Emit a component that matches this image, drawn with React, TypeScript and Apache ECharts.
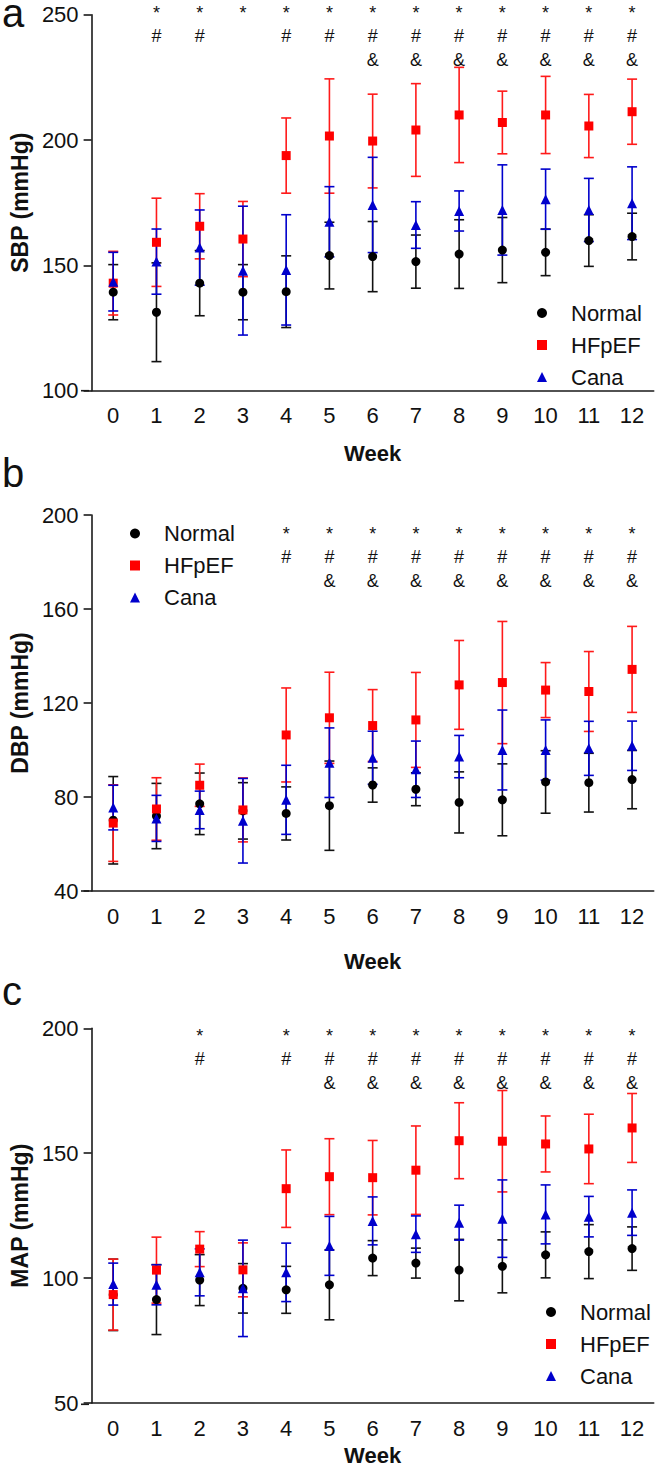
import React, { useEffect, useRef } from "react";
import * as echarts from "echarts";

const weeks = ["0", "1", "2", "3", "4", "5", "6", "7", "8", "9", "10", "11", "12"];
const groups = ["Normal", "HFpEF", "Cana"];

// Panel a: SBP
const sbpNormal = [139.3, 131.3, 142.9, 139.3, 139.5, 153.9, 153.5, 151.5, 154.5, 156.1, 155.2, 159.9, 161.5];
const sbpNormalSd = [11, 19.7, 13, 11, 14.3, 13.3, 14, 10.6, 13.7, 13, 9.3, 10.3, 9.3];
const sbpHfpef = [142.9, 159.2, 165.6, 160.5, 193.8, 201.6, 199.6, 204.0, 210.0, 207.0, 210.0, 205.6, 211.3];
const sbpHfpefSd = [12.7, 17.6, 13, 15, 15, 22.8, 18.7, 18.5, 19, 12.5, 15.4, 12.6, 13];
const sbpCana = [143.5, 151.5, 157.1, 147.9, 148.2, 167.4, 174.1, 166.1, 171.7, 172.1, 176.4, 172.1, 174.8];
const sbpCanaSd = [11.7, 13, 15, 25.7, 22, 14, 19, 9.3, 8, 18, 12, 12.6, 14.5];

// Panel b: DBP
const dbpNormal = [70.1, 71.9, 77.1, 74.1, 73.0, 76.3, 85.1, 83.3, 77.7, 78.8, 86.4, 86.1, 87.4];
const dbpNormalSd = [18.6, 13.9, 13.1, 12, 11.3, 19, 7.3, 7, 13, 15.3, 13.3, 12.5, 12.4];
const dbpHfpef = [68.9, 74.9, 85.0, 74.5, 106.4, 113.7, 110.4, 112.8, 127.7, 128.7, 125.5, 124.9, 134.3];
const dbpHfpefSd = [16.3, 13.3, 9, 13.6, 20, 19.4, 15.3, 20.2, 18.9, 26, 11.7, 17, 18.3];
const dbpCana = [75.5, 70.9, 74.5, 69.9, 78.8, 94.6, 96.7, 91.8, 97.2, 100.0, 100.0, 100.7, 101.8];
const dbpCanaSd = [9.5, 9.8, 8, 18, 14.7, 14.8, 11.3, 12, 9, 17, 12.8, 11.5, 10.5];

// Panel c: MAP
const mapNormal = [93.3, 91.4, 99.2, 95.9, 95.3, 97.3, 108.0, 106.0, 103.2, 104.7, 109.3, 110.6, 111.8];
const mapNormalSd = [14.3, 14, 10.2, 9.9, 9.4, 14, 7, 6, 12.3, 10.6, 9.2, 10.8, 8.7];
const mapHfpef = [93.4, 103.2, 111.6, 103.3, 135.8, 140.6, 140.2, 143.2, 155.0, 154.8, 153.7, 151.7, 160.1];
const mapHfpefSd = [14.2, 13.2, 7, 10.8, 15.5, 15.2, 14.9, 17.7, 15.2, 20.3, 11.2, 13.9, 13.8];
const mapCana = [97.6, 97.3, 102.3, 95.9, 102.3, 112.9, 122.9, 117.6, 122.2, 123.8, 125.5, 124.6, 126.2];
const mapCanaSd = [8.4, 8, 9.4, 19.3, 11.7, 11.8, 9.6, 7.3, 7, 15.5, 11.8, 8.1, 9.1];

// Significance marks (week indices)
const sigAStar = [1, 2, 3, 4, 5, 6, 7, 8, 9, 10, 11, 12];
const sigAHash = [1, 2, 4, 5, 6, 7, 8, 9, 10, 11, 12];
const sigAAmp = [6, 7, 8, 9, 10, 11, 12];
const sigBStar = [4, 5, 6, 7, 8, 9, 10, 11, 12];
const sigBHash = [4, 5, 6, 7, 8, 9, 10, 11, 12];
const sigBAmp = [5, 6, 7, 8, 9, 10, 11, 12];
const sigCStar = [2, 4, 5, 6, 7, 8, 9, 10, 11, 12];
const sigCHash = [2, 4, 5, 6, 7, 8, 9, 10, 11, 12];
const sigCAmp = [5, 6, 7, 8, 9, 10, 11, 12];

const FONT = "'Liberation Sans', Arial, sans-serif";
const COLORS = ["#000000", "#FF0000", "#0000CC"];
const BAR_COLORS = ["#111111", "#FF1A1A", "#0000CC"];
const SYMBOLS = ["circle", "rect", "triangle"];
const SYMBOL_SIZES = [9, 9, 10];

const GRID_LEFT = 89;
const GRID_WIDTH = 564.7;
const GRID_HEIGHT = 376;

const panels = [
  {
    label: "a", labelBase: 27, top: 14.7, yName: "SBP (mmHg)", min: 100, max: 250, interval: 50,
    means: [sbpNormal, sbpHfpef, sbpCana], sds: [sbpNormalSd, sbpHfpefSd, sbpCanaSd],
    sig: [sigAStar, sigAHash, sigAAmp], sigOffsets: [-1.7, 21.3, 45.3],
    nameGap: 52, legendLeft: 532, legendTop: 295,
  },
  {
    label: "b", labelBase: 486.7, top: 515, yName: "DBP (mmHg)", min: 40, max: 200, interval: 40,
    means: [dbpNormal, dbpHfpef, dbpCana], sds: [dbpNormalSd, dbpHfpefSd, dbpCanaSd],
    sig: [sigBStar, sigBHash, sigBAmp], sigOffsets: [19, 41.7, 65.7],
    nameGap: 59, legendLeft: 125, legendTop: 515.5,
  },
  {
    label: "c", labelBase: 1005, top: 1028.3, yName: "MAP (mmHg)", min: 50, max: 200, interval: 50,
    means: [mapNormal, mapHfpef, mapCana], sds: [mapNormalSd, mapHfpefSd, mapCanaSd],
    sig: [sigCStar, sigCHash, sigCAmp], sigOffsets: [8, 30.7, 55],
    nameGap: 41, legendLeft: 541, legendTop: 1294,
  },
];
const SIG_TEXT = ["*", "#", "&"];

function buildOption() {
  const grid: any[] = [];
  const xAxis: any[] = [];
  const yAxis: any[] = [];
  const series: any[] = [];
  const legend: any[] = [];
  const graphic: any[] = [];

  panels.forEach((p, pi) => {
    grid.push({ left: GRID_LEFT, top: p.top, width: GRID_WIDTH, height: GRID_HEIGHT });
    xAxis.push({
      type: "category", gridIndex: pi, data: weeks, boundaryGap: true,
      axisLine: { lineStyle: { color: "#1a1a1a", width: 1.6 } },
      axisTick: { alignWithLabel: true, length: 8, lineStyle: { color: "#1a1a1a", width: 1.6 } },
      axisLabel: { fontSize: 22, fontFamily: FONT, color: "#111", margin: 14 },
      name: "Week", nameLocation: "middle", nameGap: p.nameGap,
      nameTextStyle: { fontSize: 22, fontWeight: "bold", fontFamily: FONT, color: "#111" },
    });
    yAxis.push({
      type: "value", gridIndex: pi, min: p.min, max: p.max, interval: p.interval,
      splitLine: { show: false },
      axisLine: { show: true, lineStyle: { color: "#1a1a1a", width: 1.6 } },
      axisTick: { show: true, length: 8, lineStyle: { color: "#1a1a1a", width: 1.6 } },
      axisLabel: { fontSize: 22, fontFamily: FONT, color: "#111", margin: 13 },
      name: p.yName, nameLocation: "middle", nameGap: 50, nameRotate: 90,
      nameTextStyle: { fontSize: 23, fontWeight: "bold", fontFamily: FONT, color: "#111" },
    });

    groups.forEach((g, gi) => {
      const m = p.means[gi];
      const s = p.sds[gi];
      const barColor = BAR_COLORS[gi];
      series.push({
        type: "custom", name: g + " SD " + p.label, xAxisIndex: pi, yAxisIndex: pi,
        data: m.map((v, i) => [i, v - s[i], v + s[i]]),
        encode: { x: 0, y: [1, 2] },
        renderItem: (params: any, api: any) => {
          const x = api.value(0);
          const lo = api.coord([x, api.value(1)]);
          const hi = api.coord([x, api.value(2)]);
          const hw = 5;
          const st = { stroke: barColor, lineWidth: 1.6 };
          return {
            type: "group",
            children: [
              { type: "line", shape: { x1: lo[0], y1: lo[1], x2: hi[0], y2: hi[1] }, style: st },
              { type: "line", shape: { x1: lo[0] - hw, y1: lo[1], x2: lo[0] + hw, y2: lo[1] }, style: st },
              { type: "line", shape: { x1: hi[0] - hw, y1: hi[1], x2: hi[0] + hw, y2: hi[1] }, style: st },
            ],
          };
        },
        silent: true,
      });
      series.push({
        type: "scatter", name: g, xAxisIndex: pi, yAxisIndex: pi,
        data: m.map((v, i) => [i, v]),
        symbol: SYMBOLS[gi], symbolSize: SYMBOL_SIZES[gi],
        itemStyle: { color: COLORS[gi], opacity: 1 },
      });
    });

    const sigData: any[] = [];
    p.sig.forEach((arr, row) => arr.forEach((w) => sigData.push([w, row])));
    series.push({
      type: "custom", name: "sig " + p.label, xAxisIndex: pi, yAxisIndex: pi, clip: false,
      data: sigData, encode: { x: 0 },
      renderItem: (params: any, api: any) => {
        const w = api.value(0);
        const row = api.value(1);
        const pt = api.coord([w, p.max]);
        return {
          type: "text",
          style: {
            text: SIG_TEXT[row], x: pt[0], y: pt[1] + p.sigOffsets[row],
            fill: "#111", fontSize: 18, fontFamily: FONT,
            align: "center", verticalAlign: "middle",
          },
        };
      },
      silent: true,
    });

    legend.push({
      data: groups.map((g, gi) => ({ name: g, icon: SYMBOLS[gi] })),
      orient: "vertical", left: p.legendLeft, top: p.legendTop,
      itemWidth: 10, itemHeight: 10, itemGap: 6,
      textStyle: { fontSize: 22, fontFamily: FONT, color: "#111", lineHeight: 26, padding: [0, 0, 0, 19] },
      selectedMode: false,
    });

    graphic.push({
      type: "text", left: 2, top: p.labelBase - 34,
      style: { text: p.label, fontSize: 40, fontFamily: FONT, fill: "#111" },
    });
    const axisY = p.top + GRID_HEIGHT;
    graphic.push({
      type: "line", shape: { x1: GRID_LEFT - 8, y1: axisY, x2: GRID_LEFT, y2: axisY },
      style: { stroke: "#1a1a1a", lineWidth: 1.6 },
    });
  });

  return { animation: false, backgroundColor: "#ffffff", grid, xAxis, yAxis, series, legend, graphic };
}

export default function App() {
  const ref = useRef<HTMLDivElement>(null);
  useEffect(() => {
    document.body.style.margin = "0";
    if (!ref.current) return;
    const chart = echarts.init(ref.current, null, { renderer: "svg" });
    chart.setOption(buildOption());
    return () => chart.dispose();
  }, []);
  return <div ref={ref} style={{ width: 656, height: 1467 }} />;
}
